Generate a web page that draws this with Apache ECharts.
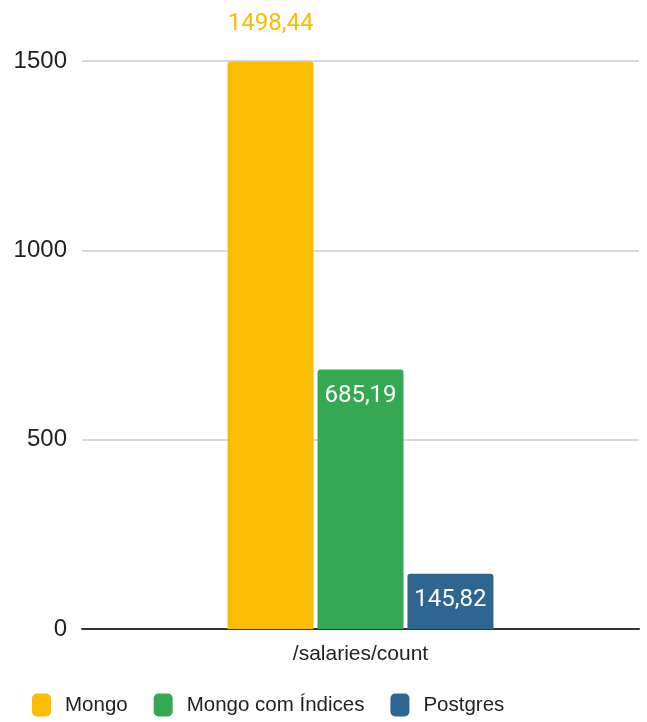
<!DOCTYPE html>
<html>
<head>
<meta charset="utf-8">
<script src="https://cdn.jsdelivr.net/npm/echarts@6/dist/echarts.min.js"></script>
<style>html,body{margin:0;padding:0;background:#fff}#chart{width:647px;height:722px}</style>
</head>
<body>
<div id="chart"></div>
<script>
const categories = ['/salaries/count'];
const seriesNames = ['Mongo', 'Mongo com Índices', 'Postgres'];
const mongo = [1498.44];
const mongoIdx = [685.19];
const postgres = [145.82];
const colors = ['#FBBC04', '#34A853', '#2F6591'];

// values are shown with a decimal comma
const fmt = p => p.value.toFixed(2).replace('.', ',');
const sans = '"Liberation Sans", Arial, sans-serif';

const chart = echarts.init(document.getElementById('chart'));
const mk = (name, data, color, inside) => ({
  name, type: 'bar', data, barWidth: 86, barGap: '4.6%',
  itemStyle: { color, borderRadius: [3, 3, 0, 0] },
  label: {
    show: true,
    position: inside ? 'insideTop' : 'top',
    distance: inside ? 14 : 26,
    color: inside ? '#fff' : color,
    fontFamily: 'Roboto', fontSize: 24,
    formatter: fmt
  }
});
chart.setOption({
  animation: false,
  grid: { left: 82, right: 8, top: 61, bottom: 93 },
  legend: {
    bottom: 5.5, left: 32, padding: 0, itemWidth: 19, itemHeight: 23, itemGap: 26,
    icon: 'roundRect',
    textStyle: { fontFamily: sans, fontSize: 20.5, color: '#222', padding: [0, 0, 0, 9] },
    data: seriesNames
  },
  xAxis: {
    type: 'category', data: categories,
    axisLine: { lineStyle: { color: '#333', width: 2 } },
    axisTick: { show: false },
    axisLabel: { fontFamily: sans, fontSize: 21, color: '#222', margin: 15 }
  },
  yAxis: {
    type: 'value', min: 0, max: 1500, interval: 500,
    axisLabel: { fontFamily: sans, fontSize: 24, color: '#222', margin: 15, formatter: v => String(v) },
    splitLine: { lineStyle: { color: '#ccc', width: 1.5 } }
  },
  series: [
    mk(seriesNames[0], mongo, colors[0], false),
    mk(seriesNames[1], mongoIdx, colors[1], true),
    mk(seriesNames[2], postgres, colors[2], true)
  ]
});
</script>
</body>
</html>
